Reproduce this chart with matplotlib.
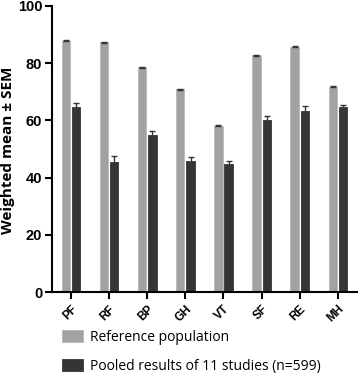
import numpy as np
import matplotlib
matplotlib.use("Agg")
from matplotlib import pyplot as plt

###############
#    DATA     #
###############

domains = ['PF', 'RF', 'BP', 'GH', 'VT', 'SF', 'RE', 'MH']
reference = [87.9, 87.3, 78.6, 70.9, 58.1, 82.7, 85.7, 71.8]
reference_sem = [0.2, 0.2, 0.2, 0.2, 0.2, 0.2, 0.2, 0.2]
pooled = [64.8, 45.6, 54.8, 45.9, 44.7, 60.3, 63.3, 64.6]
pooled_sem = [1.3, 1.9, 1.5, 1.3, 1.0, 1.2, 1.9, 0.9]
legend_labels = ['Reference population', 'Pooled results of 11 studies (n=599)']

GREY = '#a2a2a2'
DARK = '#353535'

###############
#    PLOT     #
###############

fig = plt.figure(figsize=(3.58, 3.74), dpi=100)
ax = fig.add_axes([0.145, 0.219, 0.852, 0.765])

x = np.arange(len(domains))
width = 0.22
err_kw = dict(ecolor=DARK, elinewidth=1.0, capsize=2.2, capthick=1.0)

b1 = ax.bar(x - 0.135, reference, width, yerr=reference_sem, color=GREY,
            edgecolor='#b8b8b8', linewidth=0.6, error_kw=err_kw)
b2 = ax.bar(x + 0.135, pooled, width, yerr=pooled_sem, color=DARK,
            edgecolor=DARK, linewidth=0.6, error_kw=err_kw)

for side in ('top', 'right'):
    ax.spines[side].set_visible(False)
for side in ('left', 'bottom'):
    ax.spines[side].set_linewidth(1.5)

ax.set_xlim(-0.5, 7.5)
ax.set_ylim(0, 100)
ax.set_yticks([0, 20, 40, 60, 80, 100])
ax.set_xticks(x, domains)
ax.tick_params(axis='both', width=1.5, length=5, pad=2)
ax.tick_params(axis='x', pad=3, labelrotation=45, labelsize=8.5)
ax.tick_params(axis='y', labelsize=10.5)

for lbl in ax.get_xticklabels():
    lbl.set_fontweight('bold')
    lbl.set_family('Liberation Sans')
    lbl.set_horizontalalignment('right')
    lbl.set_rotation_mode('anchor')
for lbl in ax.get_yticklabels():
    lbl.set_fontweight('bold')
    lbl.set_family('Liberation Sans')

# y label placed in figure pixels, so it stays inside the left edge
fig.text(8 / 358, 1 - 150 / 374, 'Weighted mean \u00b1 SEM', rotation=90,
         ha='center', va='center', fontsize=11, fontweight='bold',
         family='Open Sans')

fig.legend([b1, b2], legend_labels, loc='upper left',
           bbox_to_anchor=(62 / 358, 1 - 330 / 374), frameon=False,
           prop={'family': 'Open Sans', 'size': 10},
           handlelength=1.5, handleheight=0.9, handletextpad=0.5,
           labelspacing=1.0, borderaxespad=0, borderpad=0)

fig.savefig('out.png', dpi=100)
